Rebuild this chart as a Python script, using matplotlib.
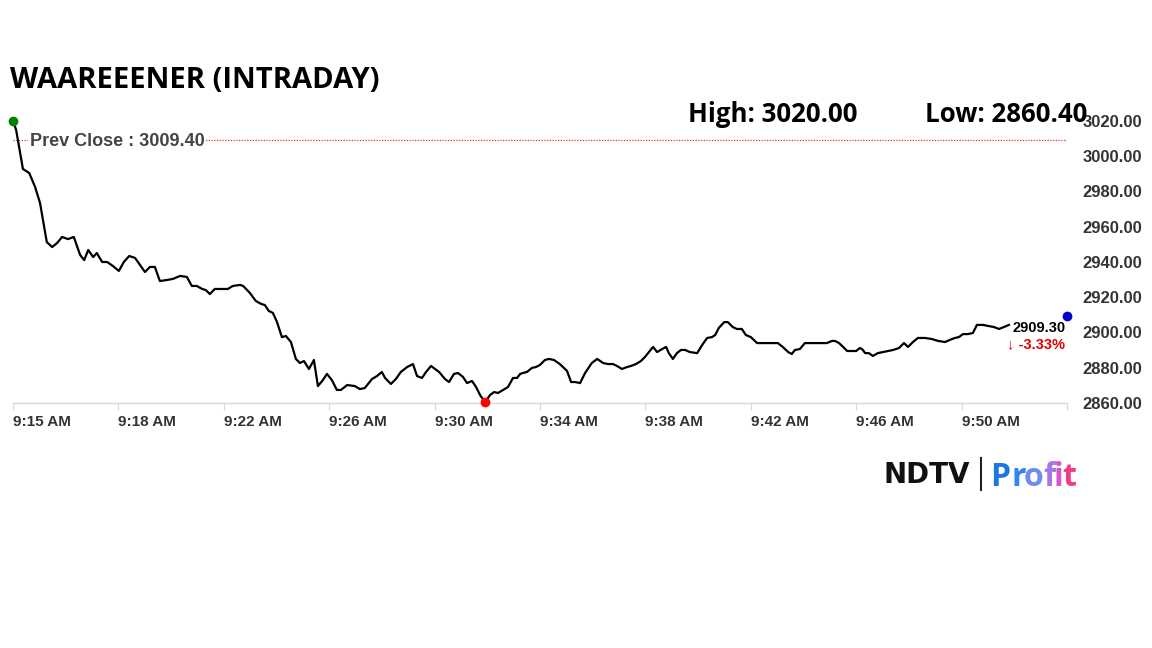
import matplotlib.pyplot as plt
import numpy as np

# seconds after 9:15 AM, price
secs = [0, 7, 22, 36, 49, 60, 75, 87, 98, 109, 122, 135, 149, 158, 167, 178, 186, 198, 209, 222,
        235, 246, 258, 271, 282, 293, 304, 315, 326, 342, 355, 371, 386, 397, 408, 420, 428, 437,
        448, 464, 477, 488, 504, 511, 526, 539, 551, 559, 568, 577, 586, 597, 606, 617, 628, 637,
        646, 657, 668, 677, 688, 697, 708, 719, 728, 742, 759, 770, 781, 797, 808, 819, 826, 839,
        850, 861, 875, 888, 897, 908, 917, 928, 937, 946, 959, 968, 979, 988, 999, 1008, 1019,
        1028, 1037, 1048, 1059, 1068, 1077, 1088, 1099, 1110, 1119, 1126, 1132, 1141, 1152, 1161,
        1170, 1181, 1190, 1201, 1214, 1230, 1239, 1248, 1259, 1270, 1285, 1297, 1310, 1321, 1332,
        1341, 1352, 1363, 1372, 1383, 1394, 1403, 1410, 1421, 1430, 1441, 1450, 1456, 1465, 1474,
        1483, 1492, 1503, 1519, 1530, 1541, 1552, 1559, 1567, 1579, 1587, 1598, 1607, 1618, 1627,
        1638, 1652, 1665, 1681, 1698, 1709, 1721, 1729, 1736, 1747, 1758, 1774, 1792, 1807, 1818,
        1825, 1834, 1843, 1852, 1863, 1872, 1880, 1885, 1892, 1900, 1909, 1920, 1931, 1943, 1954,
        1967, 1978, 1987, 1998, 2009, 2025, 2040, 2054, 2069, 2080, 2091, 2100, 2109, 2120, 2131,
        2140, 2154, 2165, 2178, 2189, 2200, 2211]
price = [3020.0, 3014.9, 2992.8, 2990.5, 2982.6, 2973.5, 2951.3, 2948.5, 2950.8, 2954.2, 2953.0,
         2954.2, 2944.0, 2941.1, 2946.8, 2942.8, 2945.1, 2940.0, 2940.0, 2937.7, 2934.9, 2940.0,
         2943.4, 2942.3, 2938.3, 2934.3, 2937.2, 2937.2, 2929.2, 2929.8, 2930.4, 2932.1, 2931.5,
         2926.4, 2926.4, 2924.7, 2924.1, 2921.8, 2924.7, 2924.7, 2924.7, 2926.4, 2927.0, 2926.4,
         2922.4, 2917.9, 2916.2, 2915.6, 2912.2, 2911.1, 2906.0, 2897.4, 2898.0, 2894.6, 2885.0,
         2882.7, 2883.8, 2879.3, 2884.4, 2869.6, 2873.0, 2876.5, 2873.0, 2867.4, 2867.4, 2870.2,
         2869.6, 2867.9, 2868.5, 2873.6, 2875.3, 2877.6, 2874.2, 2870.8, 2873.6, 2877.6, 2880.4,
         2882.1, 2875.3, 2874.2, 2877.6, 2881.0, 2879.3, 2877.6, 2873.6, 2871.9, 2876.5, 2877.0,
         2874.8, 2871.3, 2872.5, 2869.1, 2864.5, 2860.4, 2864.5, 2866.2, 2865.7, 2867.4, 2869.1,
         2874.2, 2874.2, 2876.5, 2877.0, 2877.6, 2879.9, 2880.4, 2881.6, 2884.4, 2885.0, 2884.4,
         2882.1, 2878.2, 2871.9, 2871.9, 2871.3, 2877.0, 2882.7, 2885.0, 2882.7, 2882.1, 2882.1,
         2881.0, 2879.3, 2880.4, 2881.0, 2882.1, 2883.8, 2886.1, 2888.3, 2891.8, 2888.9, 2890.6,
         2891.8, 2888.3, 2885.0, 2888.3, 2890.1, 2890.1, 2888.9, 2888.3, 2892.9, 2896.9, 2897.4,
         2898.6, 2902.6, 2905.9, 2905.9, 2903.1, 2902.0, 2902.0, 2898.6, 2897.4, 2894.0, 2894.0,
         2894.0, 2894.0, 2891.8, 2888.9, 2887.8, 2890.1, 2890.6, 2894.0, 2894.0, 2894.0, 2894.0,
         2895.2, 2895.2, 2894.0, 2891.8, 2889.5, 2889.5, 2889.5, 2891.2, 2890.6, 2888.3, 2888.3,
         2886.7, 2888.3, 2888.9, 2889.5, 2890.1, 2891.2, 2894.0, 2891.8, 2894.6, 2896.9, 2896.9,
         2896.3, 2895.2, 2894.6, 2895.8, 2896.9, 2897.4, 2899.1, 2899.1, 2899.7, 2904.3, 2904.3,
         2903.7, 2903.1, 2902.0, 2903.1, 2904.3]

prev_close = 3009.40
day_high = 3020.00
day_low = 2860.40
last_price = 2909.30
change_pct = -3.33
tick_step = 234  # seconds between axis labels
x_labels = ["9:15 AM", "9:18 AM", "9:22 AM", "9:26 AM", "9:30 AM", "9:34 AM",
            "9:38 AM", "9:42 AM", "9:46 AM", "9:50 AM", ""]
y_ticks = [2860, 2880, 2900, 2920, 2940, 2960, 2980, 3000, 3020]

plt.rcParams['font.family'] = ['Liberation Sans', 'DejaVu Sans']

fig = plt.figure(figsize=(11.52, 6.48), dpi=100)
ax = fig.add_axes([13 / 1152, 1 - 403 / 648, (1067 - 13) / 1152, (403 - 121) / 648])

x_end = tick_step * (len(x_labels) - 1)
ax.set_xlim(0, x_end)
ax.set_ylim(2860, 3020)

ax.plot(secs, price, color='black', lw=1.6, zorder=3, clip_on=False)
ax.axhline(prev_close, color='#e03030', lw=0.9, ls=(0, (1, 1.2)), zorder=1)
ax.text(x_end * 0.016, prev_close - 1.2, "Prev Close : %.2f" % prev_close, fontsize=13,
        fontweight='bold', color='#444444', va='center', ha='left', zorder=2,
        bbox=dict(facecolor='white', edgecolor='none', pad=1))

# start, low and last markers
i_low = int(np.argmin(price))
ax.plot(secs[0], price[0], 'o', color='#008000', ms=6, zorder=4, clip_on=False)
ax.plot(secs[i_low], price[i_low], 'o', color='#ff0000', ms=6, zorder=4, clip_on=False)
ax.plot(x_end, last_price, 'o', color='#0000cc', ms=6, zorder=4, clip_on=False)

ax.text(x_end - 4, price[-1] - 2, "%.2f" % last_price, fontsize=10.5, fontweight='bold',
        color='black', ha='right', va='center')
ax.text(x_end - 4, price[-1] - 11, "\u2193 %.2f%%" % change_pct, fontsize=10.5,
        fontweight='bold', color='#e00000', ha='right', va='center')

for s in ['top', 'left', 'right']:
    ax.spines[s].set_visible(False)
ax.spines['bottom'].set_color('#d8d8d8')
ax.spines['bottom'].set_linewidth(1)

ax.set_xticks(np.arange(len(x_labels)) * tick_step)
ax.set_xticklabels(x_labels, fontsize=11, fontweight='bold', color='#333333', ha='left')
ax.tick_params(axis='x', length=5, color='#d8d8d8', pad=4)

ax.yaxis.tick_right()
ax.set_yticks(y_ticks)
ax.set_yticklabels(["%.2f" % v for v in y_ticks], fontsize=12, fontweight='bold', color='#333333')
ax.tick_params(axis='y', length=0, pad=11)

# header texts
fig.text(10 / 1152, 1 - 80 / 648, "WAAREEENER (INTRADAY)", fontsize=21, fontweight='bold',
         family='Open Sans', va='center', ha='left')
fig.text(688 / 1152, 1 - 114 / 648, "High: %.2f" % day_high, fontsize=18.6, fontweight='bold',
         family='Open Sans', va='center', ha='left')
fig.text(925 / 1152, 1 - 114 / 648, "Low: %.2f" % day_low, fontsize=18.6, fontweight='bold',
         family='Open Sans', va='center', ha='left')

# logo
fig.text(884 / 1152, 1 - 475 / 648, "NDTV", fontsize=20, fontweight='heavy', color='#111111',
         family='DejaVu Sans', va='center', ha='left')
fig.add_artist(plt.Line2D([981 / 1152, 981 / 1152], [1 - 458 / 648, 1 - 490 / 648],
                          color='#222222', lw=1.5))
profit_cols = ['#1a78e0', '#2f86ee', '#6f8af2', '#a874ea', '#d855cc', '#f03c88']
px = 990
for ch, c, w in zip("Profit", profit_cols, [21, 13, 19, 11, 8, 12]):
    fig.text(px / 1152, 1 - 477 / 648, ch, fontsize=23, fontweight='bold', color=c,
             family='Open Sans', va='center', ha='left')
    px += w

fig.savefig('out.png', dpi=100, facecolor='white')
